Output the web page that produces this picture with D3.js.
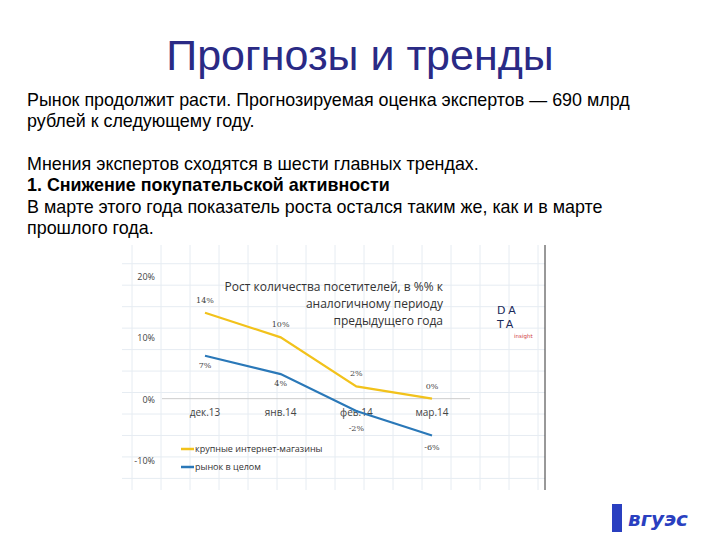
<!DOCTYPE html><html><head><meta charset="utf-8"><script src="https://cdn.jsdelivr.net/npm/d3@7"></script>
<style>body{margin:0;background:#fff}</style></head><body><svg id="c" width="720" height="540"></svg>
<script>
const categories=["дек.13","янв.14","фев.14","мар.14"];
const seriesBig=[14,10,2,0];
const seriesMarket=[7,4,-2,-6];
const seriesNames=["крупные интернет-магазины","рынок в целом"];
const yTicks=[20,10,0,-10];
const svg=d3.select("#c");
svg.append("text").attr("x",360).attr("y",70).attr("text-anchor","middle").attr("font-family","Liberation Sans").attr("font-size",43).attr("fill","#2a2a85").text("Прогнозы и тренды");
const lines=[["Рынок продолжит расти. Прогнозируемая оценка экспертов — 690 млрд",false],["рублей к следующему году.",false],["",false],["Мнения экспертов сходятся в шести главных трендах.",false],["1. Снижение покупательской активности",true],["В марте этого года показатель роста остался таким же, как и в марте",false],["прошлого года.",false]];
lines.forEach((l,i)=>svg.append("text").attr("x",27).attr("y",106+i*21.3).attr("font-family","Liberation Sans").attr("font-size",17.9).attr("font-weight",l[1]?"bold":"normal").attr("fill","#000").text(l[0]));
const x=d3.scalePoint().domain(categories).range([205,432]);
const y=d3.scaleLinear().domain([-10,20]).range([460,276]);
const g=svg.append("g");
for(let gx=132;gx<545;gx+=29)g.append("line").attr("x1",gx).attr("x2",gx).attr("y1",245).attr("y2",490).attr("stroke","#e6ecf2");
for(let v=-13;v<=24;v+=3.5)g.append("line").attr("x1",122).attr("x2",545).attr("y1",y(v)).attr("y2",y(v)).attr("stroke","#e6ecf2");
g.append("line").attr("x1",545).attr("x2",545).attr("y1",245).attr("y2",490).attr("stroke","#333");
g.append("line").attr("x1",162).attr("x2",470).attr("y1",y(0)).attr("y2",y(0)).attr("stroke","#ccc");
yTicks.forEach(t=>g.append("text").attr("x",155).attr("y",y(t)+4).attr("text-anchor","end").attr("font-family","Open Sans").attr("font-size",9).attr("fill","#444").text(t+"%"));
categories.forEach(c=>g.append("text").attr("x",x(c)).attr("y",y(0)+17).attr("text-anchor","middle").attr("font-family","Open Sans").attr("font-size",10).attr("fill","#444").text(c));
const line=d3.line().x((d,i)=>x(categories[i])).y(d=>y(d));
g.append("path").attr("d",line(seriesBig)).attr("fill","none").attr("stroke","#f2c21b").attr("stroke-width",2.2);
g.append("path").attr("d",line(seriesMarket)).attr("fill","none").attr("stroke","#2a78b8").attr("stroke-width",2.2);
const off1=[-10,-10,-10,-10],off2=[12,12,20,15];
seriesBig.forEach((v,i)=>g.append("text").attr("x",x(categories[i])).attr("y",y(v)+off1[i]).attr("text-anchor","middle").attr("font-family","DejaVu Serif").attr("font-size",8).attr("fill","#444").text(v+"%"));
seriesMarket.forEach((v,i)=>g.append("text").attr("x",x(categories[i])).attr("y",y(v)+off2[i]).attr("text-anchor","middle").attr("font-family","DejaVu Serif").attr("font-size",8).attr("fill","#444").text(v+"%"));
["Рост количества посетителей, в %% к","аналогичному периоду","предыдущего года"].forEach((t,i)=>g.append("text").attr("x",443).attr("y",291+i*17).attr("text-anchor","end").attr("font-family","Open Sans").attr("font-size",12).attr("fill","#333").text(t));
[["#f2c21b",seriesNames[0],449],["#2a78b8",seriesNames[1],467]].forEach(l=>{g.append("line").attr("x1",181).attr("x2",194).attr("y1",l[2]).attr("y2",l[2]).attr("stroke",l[0]).attr("stroke-width",2.5);g.append("text").attr("x",195).attr("y",l[2]+3).attr("font-family","Open Sans").attr("font-size",9).attr("fill","#333").text(l[1]);});
g.append("text").attr("x",497).attr("y",314).attr("font-family","DejaVu Sans").attr("font-size",11).attr("fill","#1a2a5a").attr("letter-spacing",3).text("DA");
g.append("text").attr("x",497).attr("y",328).attr("font-family","DejaVu Sans").attr("font-size",11).attr("fill","#1a2a5a").attr("letter-spacing",3).text("TA");
g.append("text").attr("x",514).attr("y",338).attr("font-family","DejaVu Sans").attr("font-size",5.5).attr("fill","#d04040").text("insight");
svg.append("rect").attr("x",612).attr("y",504).attr("width",10).attr("height",28).attr("fill","#2a3fc0");
svg.append("text").attr("x",628).attr("y",526).attr("font-family","DejaVu Sans").attr("font-style","italic").attr("font-weight","bold").attr("font-size",20).attr("fill","#2a3fc0").text("вгуэс");
</script></body></html>
